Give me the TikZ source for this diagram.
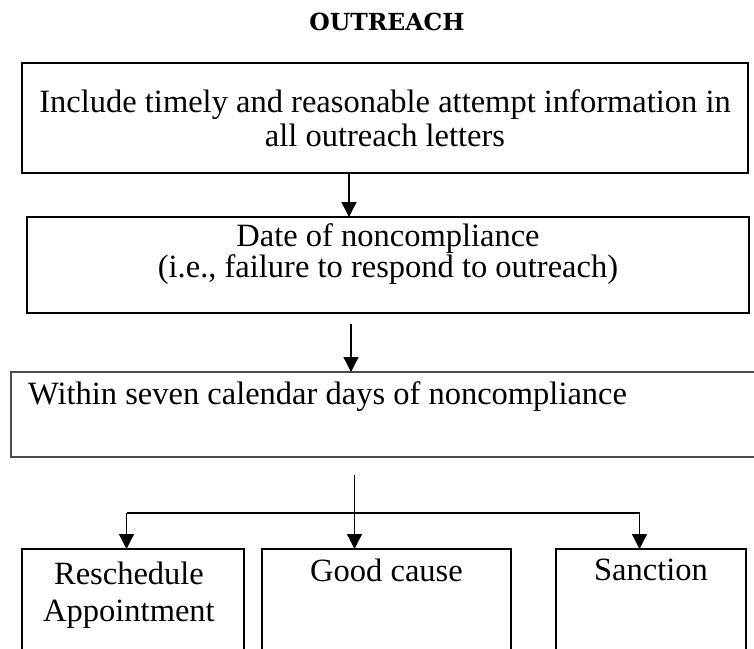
\documentclass[tikz,border=0pt]{standalone}
\usepackage{fontspec}
\setmainfont{Liberation Serif}
\newfontfamily\titlefont{DejaVu Serif}
\usetikzlibrary{arrows.meta,positioning}

\begin{document}
\begin{tikzpicture}[
    x=1pt, y=1pt,
    box/.style={draw=black, line width=1.6pt, inner sep=0pt, outer sep=0pt, anchor=north west},
    thinbox/.style={draw=black!70, line width=1.1pt, inner sep=0pt, outer sep=0pt, anchor=north west},
    txt/.style={font=\fontsize{32.5}{34}\selectfont, inner sep=0pt, align=center},
    arr/.style={-{Triangle[width=15pt,length=15pt]}, line width=1.3pt},
    line/.style={line width=1.3pt}
]
\useasboundingbox (0,0) rectangle (754,-648);
\clip (0,0) rectangle (754,-648);

% Title
\node[font={\titlefont\fontsize{23.5}{26}\selectfont\bfseries}, inner sep=0pt, anchor=base] (title) at (387,-30) {OUTREACH};

% Outreach letters
\node[box, minimum width=726pt, minimum height=110pt] (incl) at (22,-63) {};
\node[txt, below=26pt of incl.north] (incl-t) {
    Include timely and reasonable attempt information in\\
    all outreach letters
};

% Date of noncompliance
\node[box, below=44pt of incl.south west, anchor=north west, xshift=5pt, minimum width=722pt, minimum height=96pt] (date) {};
\node[txt, font=\fontsize{32.5}{31}\selectfont, below=6pt of date.north] (date-t) {
    Date of noncompliance\\
    (i.e., failure to respond to outreach)
};

% Seven calendar days
\node[thinbox, below=59pt of date.south west, anchor=north west, xshift=-16pt, minimum width=749pt, minimum height=85pt] (within) {};
\node[txt, below right=9pt and 17pt of within.north west] (within-t) {Within seven calendar days of noncompliance};

% Outcomes
\node[box, below=92pt of within.south west, anchor=north west, xshift=11pt, minimum width=222pt, minimum height=120pt] (resched) {};
\node[box, right=18pt of resched.north east, anchor=north west, minimum width=249pt, minimum height=120pt] (goodc) {};
\node[box, right=45pt of goodc.north east, anchor=north west, minimum width=190pt, minimum height=120pt] (sanct) {};

\node[txt, font=\fontsize{32.5}{37}\selectfont, below=13pt of resched.north, xshift=-4pt] (resched-t) {
    Reschedule\\
    Appointment
};
\node[txt, below=10pt of goodc.north] (goodc-t) {Good cause};
\node[txt, below=10pt of sanct.north] (sanct-t) {Sanction};

% Arrows
\draw[arr] ([xshift=-36pt]incl.south) -- ([xshift=-36pt]incl.south |- date.north);
\draw[arr] ([xshift=-37pt,yshift=-11pt]date.south) -- ([xshift=-37pt]date.south |- within.north);

\coordinate[below=56pt of within.south, xshift=-31pt] (fork);
\draw[line] ([xshift=-228pt]fork) -- ([xshift=285pt]fork);
\draw[arr] ([yshift=38pt]fork) -- (fork |- goodc.north);
\draw[arr] ([xshift=-228pt]fork) -- ([xshift=-228pt]fork |- resched.north);
\draw[arr] ([xshift=285pt]fork) -- ([xshift=285pt]fork |- sanct.north);

\end{tikzpicture}
\end{document}
